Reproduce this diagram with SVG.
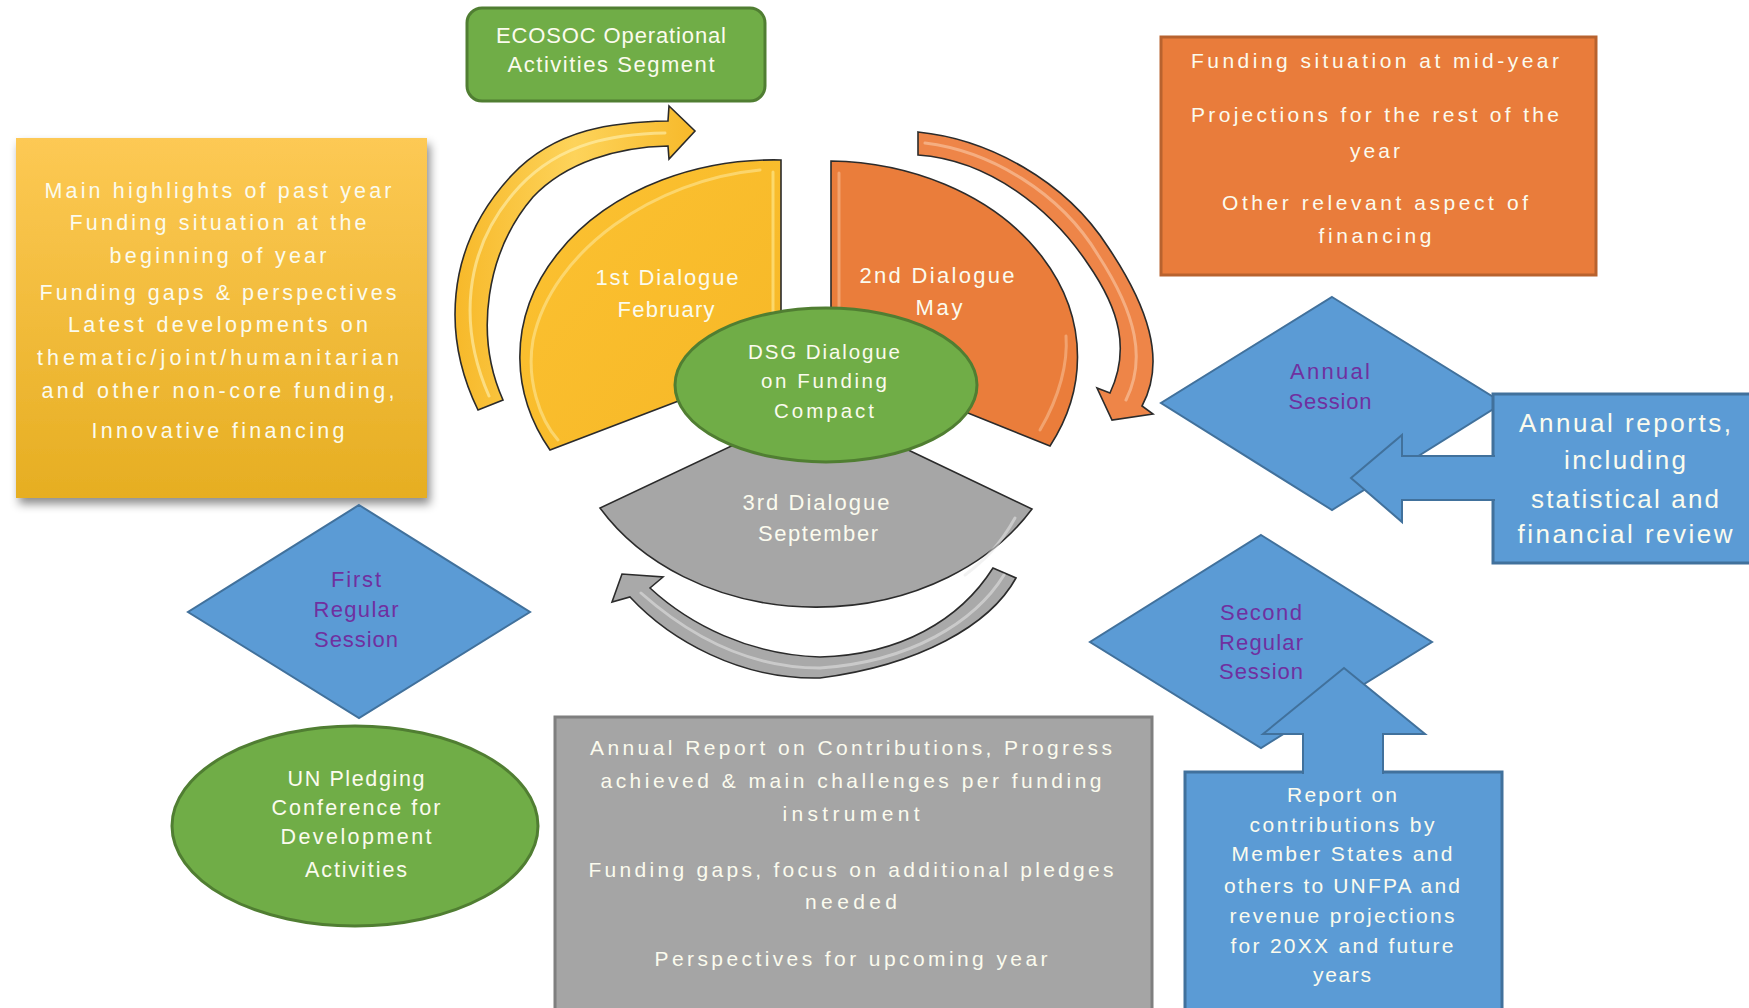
<svg xmlns="http://www.w3.org/2000/svg" width="1749" height="1008" viewBox="0 0 1749 1008">
<defs>
<style>
.t{font-family:"Liberation Sans",Arial,sans-serif;fill:#fbfbee;text-anchor:middle}
.p{font-family:"Liberation Sans",Arial,sans-serif;fill:#7030a0;text-anchor:middle;font-size:22px}
.dia{fill:#5b9bd5;stroke:#41719c;stroke-width:2}
.bluebox{fill:#5b9bd5;stroke:#41719c;stroke-width:3}
.green{fill:#70ad47;stroke:#507e32;stroke-width:3}
.wedge{stroke:#2b2b2b;stroke-width:1.6}
.carrow{stroke:#2b2b2b;stroke-width:1.6}
.hl{fill:none;stroke-width:3;stroke-linecap:round;opacity:0.55}
</style>
<linearGradient id="gY" x1="0" y1="0" x2="0" y2="1">
<stop offset="0" stop-color="#fdc954"/><stop offset="1" stop-color="#e6ae22"/>
</linearGradient>
<linearGradient id="gWY" x1="0" y1="0" x2="1" y2="1">
<stop offset="0" stop-color="#fcc232"/><stop offset="1" stop-color="#f6b726"/>
</linearGradient>
<linearGradient id="gAY" x1="0" y1="0" x2="1" y2="0">
<stop offset="0" stop-color="#f7b92a"/><stop offset="0.5" stop-color="#fdd35a"/><stop offset="1" stop-color="#f7b92a"/>
</linearGradient>
<filter id="sh" x="-10%" y="-10%" width="125%" height="125%">
<feDropShadow dx="3" dy="6" stdDeviation="5" flood-color="#000" flood-opacity="0.45"/>
</filter>
</defs>
<rect x="0" y="0" width="1749" height="1008" fill="#ffffff"/>

<g id="connectors">
<path id="arrow-yellow" class="carrow" fill="url(#gAY)" d="M478,410 C444,340 442,250 512,175 C556,128 615,122 668,121 L669,106 L695,131 L669,159 L668,146 C618,147 566,162 533,197 C486,252 474,335 503,400 Z"/>
<path class="hl" stroke="#fff6c0" d="M489,396 C460,330 460,250 520,186 C562,142 615,134 665,133"/>
<path id="arrow-orange" class="carrow" fill="#ee8548" d="M918,132 C988,139 1065,180 1108,247 C1147,305 1167,360 1142,406 L1153,414 L1112,420 L1097,388 L1110,393 C1130,350 1120,310 1088,264 C1052,210 990,160 918,155 Z"/>
<path class="hl" stroke="#fbd0b0" d="M925,143 C990,151 1060,192 1098,255 C1137,315 1146,360 1126,400"/>
<path id="arrow-gray" class="carrow" fill="#a9a9a9" d="M1016,578 C990,625 920,665 820,678 C740,680 670,640 630,597 L612,602 L622,574 L663,577 L650,588 C690,625 750,655 820,657 C900,655 960,620 993,568 Z"/>
<path class="hl" stroke="#e6e6e6" d="M1004,575 C975,622 910,662 820,668 C745,668 685,632 641,593"/>
</g>

<g id="wedge-1st">
<path class="wedge" fill="url(#gWY)" d="M781,362 L781,160 A254,197 0 0 0 550,450 Z"/>
<path class="hl" stroke="#fff0a0" d="M773,172 L773,320"/>
<path class="hl" stroke="#fde9a0" d="M760,170 C655,180 552,250 533,340 C526,380 540,420 558,440" opacity="0.4"/>
<text class="t" font-size="22" x="667" y="285" textLength="143">1st Dialogue</text>
<text class="t" font-size="22" x="666" y="317" textLength="97">February</text>
</g>
<g id="wedge-2nd">
<path class="wedge" fill="#ea7d3b" d="M831,358 L831,161 A252,196 0 0 1 1050,446 Z"/>
<path class="hl" stroke="#f8c39a" d="M839,173 L839,320"/>
<path class="hl" stroke="#f8c39a" d="M1040,430 C1060,396 1068,362 1066,336" opacity="0.45"/>
<text class="t" font-size="22" x="937" y="283" textLength="155">2nd Dialogue</text>
<text class="t" font-size="22" x="939" y="315" textLength="47">May</text>
</g>
<g id="wedge-3rd">
<path class="wedge" fill="#a6a6a6" d="M816,406 L600,508 A251,201 0 0 0 1032,509 Z"/>
<path class="hl" stroke="#e8e8e8" d="M1015,518 C1000,545 985,560 965,575" opacity="0.5"/>
<text class="t" font-size="22" x="816" y="510" textLength="147">3rd Dialogue</text>
<text class="t" font-size="22" x="818" y="541" textLength="120">September</text>
</g>

<g id="dsg">
<ellipse class="green" cx="826" cy="385" rx="151" ry="77"/>
<text class="t" font-size="20.5" x="824" y="359" textLength="152">DSG Dialogue</text>
<text class="t" font-size="20.5" x="824" y="388" textLength="126">on Funding</text>
<text class="t" font-size="20.5" x="824" y="418" textLength="100">Compact</text>
</g>

<g id="ecosoc">
<rect class="green" x="467" y="8" width="298" height="93" rx="15"/>
<text class="t" font-size="22" x="611" y="43" textLength="230">ECOSOC Operational</text>
<text class="t" font-size="22" x="611" y="72" textLength="207">Activities Segment</text>
</g>

<g id="yellow-box">
<rect x="16" y="138" width="411" height="360" fill="url(#gY)" filter="url(#sh)"/>
<text class="t" font-size="21.5" x="218" y="198" textLength="347">Main highlights of past year</text>
<text class="t" font-size="21.5" x="218" y="230" textLength="297">Funding situation at the</text>
<text class="t" font-size="21.5" x="218" y="263" textLength="217">beginning of year</text>
<text class="t" font-size="21.5" x="218" y="300" textLength="357">Funding gaps &amp; perspectives</text>
<text class="t" font-size="21.5" x="218" y="332" textLength="300">Latest developments on</text>
<text class="t" font-size="21.5" x="218" y="365" textLength="362">thematic/joint/humanitarian</text>
<text class="t" font-size="21.5" x="218" y="398" textLength="353">and other non-core funding,</text>
<text class="t" font-size="21.5" x="218" y="438" textLength="253">Innovative financing</text>
</g>

<g id="orange-box">
<rect x="1161" y="37" width="435" height="238" fill="#e97c3b" stroke="#b8622e" stroke-width="3"/>
<text class="t" font-size="21" x="1375" y="68" textLength="368">Funding situation at mid-year</text>
<text class="t" font-size="21" x="1375" y="122" textLength="368">Projections for the rest of the</text>
<text class="t" font-size="21" x="1375" y="158" textLength="50">year</text>
<text class="t" font-size="21" x="1375" y="210" textLength="306">Other relevant aspect of</text>
<text class="t" font-size="21" x="1375" y="243" textLength="113">financing</text>
</g>

<g id="annual-session">
<polygon class="dia" points="1332,297 1503,403 1332,510 1161,403"/>
<text class="p" x="1330" y="379" textLength="80">Annual</text>
<text class="p" x="1330" y="409" textLength="83">Session</text>
</g>

<g id="annual-reports">
<rect class="bluebox" x="1493" y="394" width="270" height="169"/>
<text class="t" font-size="26" x="1625" y="432" textLength="212">Annual reports,</text>
<text class="t" font-size="26" x="1625" y="469" textLength="122">including</text>
<text class="t" font-size="26" x="1625" y="508" textLength="188">statistical and</text>
<text class="t" font-size="26" x="1625" y="543" textLength="215">financial review</text>
</g>

<g id="second-session">
<polygon class="dia" points="1261,535 1432,642 1261,748 1090,642"/>
<text class="p" x="1261" y="620" textLength="82">Second</text>
<text class="p" x="1261" y="650" textLength="84">Regular</text>
<text class="p" x="1261" y="679" textLength="84">Session</text>
</g>

<g id="report-box">
<rect class="bluebox" x="1185" y="772" width="317" height="250"/>
<text class="t" font-size="21" x="1342" y="802" textLength="110">Report on</text>
<text class="t" font-size="21" x="1342" y="832" textLength="185">contributions by</text>
<text class="t" font-size="21" x="1342" y="861" textLength="221">Member States and</text>
<text class="t" font-size="21" x="1342" y="893" textLength="236">others to UNFPA and</text>
<text class="t" font-size="21" x="1342" y="923" textLength="225">revenue projections</text>
<text class="t" font-size="21" x="1342" y="953" textLength="223">for 20XX and future</text>
<text class="t" font-size="21" x="1342" y="982" textLength="58">years</text>
</g>

<g id="block-arrows">
<polygon fill="#5b9bd5" points="1351,478 1402,435 1402,456 1498,456 1498,500 1402,500 1402,522"/>
<polyline fill="none" stroke="#41719c" stroke-width="2" points="1495,456 1402,456 1402,435 1351,478 1402,522 1402,500 1495,500"/>
<polygon fill="#5b9bd5" points="1344,668 1425,734 1383,734 1383,776 1303,776 1303,734 1263,734"/>
<polyline fill="none" stroke="#41719c" stroke-width="2" points="1303,774 1303,734 1263,734 1344,668 1425,734 1383,734 1383,774"/>
</g>

<g id="first-session">
<polygon class="dia" points="359,505 530,612 359,718 188,612"/>
<text class="p" x="356" y="587" textLength="50">First</text>
<text class="p" x="356" y="617" textLength="85">Regular</text>
<text class="p" x="356" y="647" textLength="84">Session</text>
</g>

<g id="un-pledging">
<ellipse class="green" cx="355" cy="826" rx="183" ry="100"/>
<text class="t" font-size="21.5" x="356" y="786" textLength="137">UN Pledging</text>
<text class="t" font-size="21.5" x="356" y="815" textLength="169">Conference for</text>
<text class="t" font-size="21.5" x="356" y="844" textLength="151">Development</text>
<text class="t" font-size="21.5" x="356" y="877" textLength="102">Activities</text>
</g>

<g id="gray-box">
<rect x="555" y="717" width="597" height="305" fill="#a5a5a5" stroke="#7f7f7f" stroke-width="3"/>
<text class="t" font-size="21" x="851" y="755" textLength="522">Annual Report on Contributions, Progress</text>
<text class="t" font-size="21" x="851" y="788" textLength="501">achieved &amp; main challenges per funding</text>
<text class="t" font-size="21" x="851" y="821" textLength="137">instrument</text>
<text class="t" font-size="21" x="851" y="877" textLength="525">Funding gaps, focus on additional pledges</text>
<text class="t" font-size="21" x="851" y="909" textLength="92">needed</text>
<text class="t" font-size="21" x="851" y="966" textLength="393">Perspectives for upcoming year</text>
</g>
</svg>
